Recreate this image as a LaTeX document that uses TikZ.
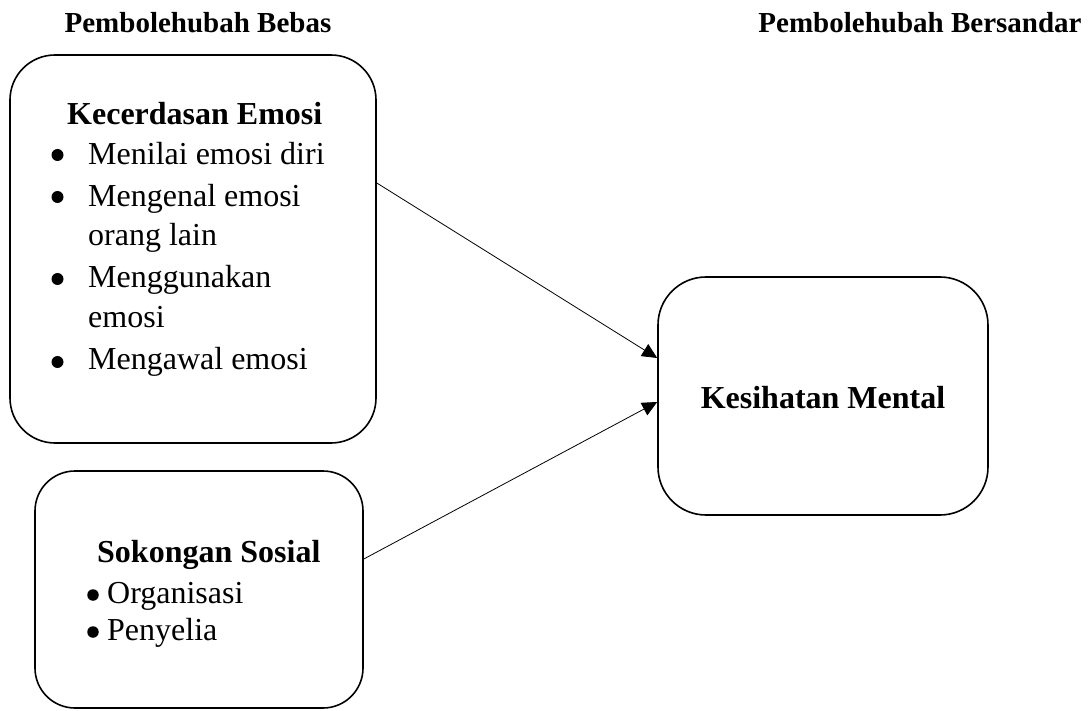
\documentclass[tikz,border=0pt]{standalone}
\usepackage{fontspec}
\setmainfont{Liberation Serif}
\usetikzlibrary{arrows.meta}
\begin{document}
\begin{tikzpicture}[x=1pt,y=-1pt,
  box/.style={draw,line width=1.6pt,inner sep=0pt},
  hdr/.style={anchor=base,inner sep=0pt,font=\fontsize{29}{34}\selectfont\bfseries},
  ttl/.style={anchor=base west,inner sep=0pt,font=\fontsize{32}{38}\selectfont\bfseries},
  itm/.style={anchor=base west,inner sep=0pt,font=\fontsize{32}{38}\selectfont},
  bul/.style={circle,fill,inner sep=0pt,minimum size=12pt},
  arr/.style={line width=0.8pt,-{Triangle[length=15pt,width=14pt]}}]
\useasboundingbox (0,0) rectangle (1090,711);
% headers
\node[hdr] (h1) at (198,33) {Pembolehubah Bebas};
\node[hdr] (h2) at (920,33) {Pembolehubah Bersandar};
% boxes
\node[box,rounded corners=45pt,minimum width=366pt,minimum height=388pt] (b1) at (193,249) {};
\node[box,rounded corners=40pt,minimum width=328pt,minimum height=237pt] (b2) at (199,589.5) {};
\node[box,rounded corners=48pt,minimum width=330pt,minimum height=238pt] (b3) at (823,396) {};
% box 1 text
\node[ttl] (t1) at (67,125) {Kecerdasan Emosi};
\node[bul] (p1) at (57.5,155) {};
\node[itm] (i1) at (88,165) {Menilai emosi diri};
\node[bul] (p2) at (57.5,197) {};
\node[itm] (i2) at (88,207) {Mengenal emosi};
\node[itm] (i2b) at (88,246) {orang lain};
\node[bul] (p3) at (57.5,279) {};
\node[itm] (i3) at (88,288) {Menggunakan};
\node[itm] (i3b) at (88,327) {emosi};
\node[bul] (p4) at (57.5,362) {};
\node[itm] (i4) at (88,370) {Mengawal emosi};
% box 2 text
\node[ttl] (t2) at (97,562) {Sokongan Sosial};
\node[bul,minimum size=11.5pt] (q1) at (93,595) {};
\node[itm] (j1) at (107,603) {Organisasi};
\node[bul,minimum size=11.5pt] (q2) at (93,632) {};
\node[itm] (j2) at (107,640) {Penyelia};
% box 3 text
\node[anchor=base,inner sep=0pt,font=\fontsize{32}{38}\selectfont\bfseries] (t3) at (823,408) {Kesihatan Mental};
% arrows
\draw[arr] (b1.east |- 0,183) -- (b3.west |- 0,358);
\draw[arr] (b2.east |- 0,559) -- (b3.west |- 0,402);
\end{tikzpicture}
\end{document}
